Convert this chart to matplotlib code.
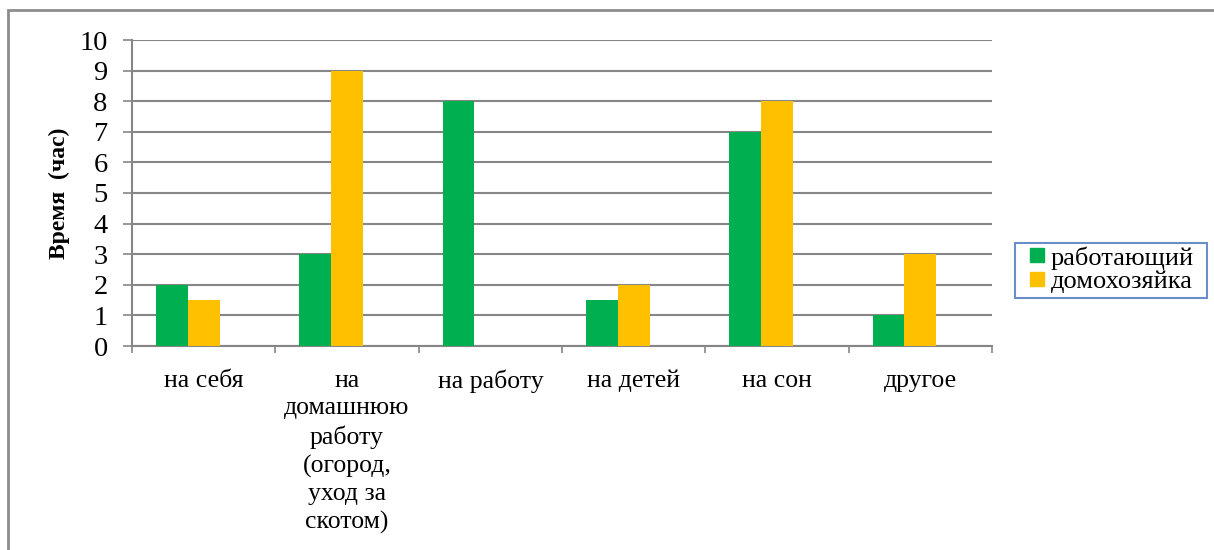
import matplotlib
matplotlib.use("Agg")
import matplotlib.pyplot as plt
from matplotlib.lines import Line2D
from matplotlib.patches import Rectangle
import numpy as np

plt.rcParams['font.family'] = ['Liberation Serif', 'DejaVu Serif']

categories = ["на себя", "на\nдомашнюю\nработу\n(огород,\nуход за\nскотом)",
              "на работу", "на детей", "на сон", "другое"]
working = [2, 3, 8, 1.5, 7, 1]
housewife = [1.5, 9, 0, 2, 8, 3]
series_names = ["работающий", "домохозяйка"]
colors = ["#00B050", "#FFC000"]
y_ticks = list(range(0, 11))

W, H = 1214, 550
fig = plt.figure(figsize=(W / 100, H / 100), dpi=100)

# outer chart frame
fig.patches.append(Rectangle((8 / W, -0.2), 1.2, 1.2 - 10 / H, transform=fig.transFigure,
                             fill=False, edgecolor="#8C8C8C", linewidth=2.0, zorder=0))

ax = fig.add_axes([132 / W, 1 - 346 / H, (992 - 132) / W, (346 - 40) / H])

x = np.arange(len(categories))
bw = 1 / 4.5
ax.bar(x - bw, working, width=bw, color=colors[0], zorder=3)
ax.bar(x, housewife, width=bw, color=colors[1], zorder=3)

ax.set_xlim(-0.5, len(categories) - 0.5)
ax.set_ylim(0, 10)
ax.set_yticks(y_ticks)
ax.set_yticklabels([str(v) for v in y_ticks], fontsize=20.5)
ax.yaxis.grid(True, color="#868686", linewidth=1.5, zorder=0)
ax.tick_params(axis='y', length=6.5, width=1.2, color="#868686", pad=11)

ax.set_xticks(x)
ax.set_xticklabels(categories, fontsize=18.5, linespacing=1.33, va='top')
ax.tick_params(axis='x', which='major', length=0, pad=17)
ax.set_xticks(np.arange(-0.5, len(categories)), minor=True)
ax.tick_params(axis='x', which='minor', length=5, width=1.2, color="#868686")

for side in ("top", "right"):
    ax.spines[side].set_visible(False)
ax.spines["left"].set_color("#868686")
ax.spines["bottom"].set_color("#868686")
ax.spines["left"].set_linewidth(1.5)
ax.spines["bottom"].set_linewidth(1.5)

ax.set_ylabel("Время  (час)", fontsize=17, fontweight='bold')
ax.yaxis.set_label_coords(-(132 - 70) / (992 - 132), 0.5)

# legend entries, with a separate box drawn around them
fs_leg = 19
px_per_font = fs_leg * 100 / 72
handles = [Line2D([], [], marker='s', linestyle='none', markersize=9.4,
                  markerfacecolor=c, markeredgecolor=c) for c in colors]
leg = fig.legend(handles, series_names, loc='center left',
                 bbox_to_anchor=(1030 / W, 1 - 269.5 / H), fontsize=fs_leg,
                 frameon=False, handlelength=13 / px_per_font,
                 handletextpad=8 / px_per_font, borderpad=0, labelspacing=0,
                 borderaxespad=0)
fig.patches.append(Rectangle((1015 / W, 1 - 298 / H), 192 / W, 55 / H,
                             transform=fig.transFigure, fill=False,
                             edgecolor="#6A8FC8", linewidth=1.5, zorder=2))

fig.savefig("out.png", dpi=100)
